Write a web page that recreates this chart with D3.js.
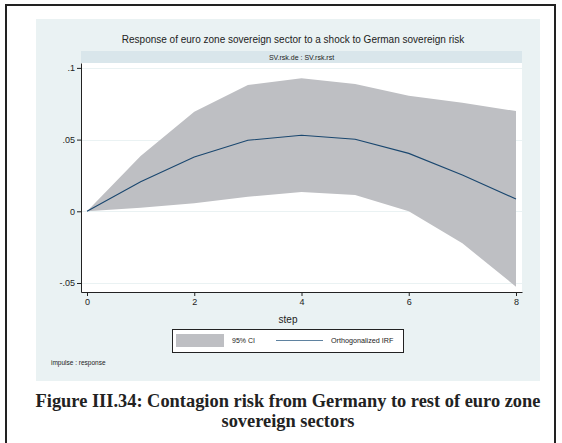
<!DOCTYPE html>
<html>
<head>
<meta charset="utf-8">
<script src="https://cdn.jsdelivr.net/npm/d3@7/dist/d3.min.js"></script>
<style>
  html, body { margin: 0; padding: 0; background: #ffffff; }
  svg { display: block; }
</style>
</head>
<body>
<svg id="chart" width="562" height="443"></svg>
<script>
// Impulse-response data: steps, orthogonalized IRF and its 95% confidence band
const steps = [0, 1, 2, 3, 4, 5, 6, 7, 8];
const irf   = [0, 0.0206, 0.0379, 0.0495, 0.0530, 0.0502, 0.0404, 0.0253, 0.0086];
const upper = [0, 0.0386, 0.0695, 0.0881, 0.0927, 0.0888, 0.0806, 0.0757, 0.0699];
const lower = [0, 0.0025, 0.0056, 0.0102, 0.0134, 0.0114, 0.0000, -0.0223, -0.0526];

const xTicks = [0, 2, 4, 6, 8];
const yTicks = [-0.05, 0, 0.05, 0.1];
const yTickLabels = ["-.05", "0", ".05", ".1"];

const titleText = "Response of euro zone sovereign sector to a shock to German sovereign risk";
const stripText = "SV.rsk.de : SV.rsk.rst";
const xTitle = "step";
const legendLabels = ["95% CI", "Orthogonalized IRF"];
const noteText = "impulse : response";
const captionLines = [
  "Figure III.34: Contagion risk from Germany to rest of euro zone",
  "sovereign sectors"
];

const svg = d3.select("#chart");
const sans = "'Liberation Sans', Arial, sans-serif";
const serif = "'Liberation Serif', 'Times New Roman', serif";

// Outer page frame
svg.append("rect")
  .attr("x", 6).attr("y", 5).attr("width", 549).attr("height", 452)
  .attr("fill", "none").attr("stroke", "#222").attr("stroke-width", 2);

// Graph panel background
const panel = { x: 36, y: 19, w: 504, h: 362 };
svg.append("rect")
  .attr("x", panel.x).attr("y", panel.y).attr("width", panel.w).attr("height", panel.h)
  .attr("fill", "#eaf2f3");

// Plot region
const plot = { left: 81, right: 522, top: 63, bottom: 292 };

const x = d3.scaleLinear().domain([-0.112, 8.112]).range([plot.left, plot.right]);
const y = d3.scaleLinear().domain([-0.05628, 0.10342]).range([plot.bottom, plot.top]);

// Title
svg.append("text")
  .attr("x", 293).attr("y", 39.5)
  .attr("text-anchor", "middle").attr("dominant-baseline", "central")
  .attr("font-family", sans).attr("font-size", 10).attr("fill", "#222")
  .text(titleText);

// Subtitle strip
svg.append("rect")
  .attr("x", plot.left).attr("y", 51).attr("width", plot.right - plot.left).attr("height", 12)
  .attr("fill", "#d9e6eb");
svg.append("text")
  .attr("x", (plot.left + plot.right) / 2).attr("y", 57.3)
  .attr("text-anchor", "middle").attr("dominant-baseline", "central")
  .attr("font-family", sans).attr("font-size", 7).attr("fill", "#222")
  .text(stripText);

// White plot area
svg.append("rect")
  .attr("x", plot.left).attr("y", plot.top)
  .attr("width", plot.right - plot.left).attr("height", plot.bottom - plot.top)
  .attr("fill", "#ffffff");

// Horizontal grid lines
svg.append("g").selectAll("line").data(yTicks).join("line")
  .attr("x1", plot.left).attr("x2", plot.right)
  .attr("y1", d => Math.round(y(d)) + 0.5).attr("y2", d => Math.round(y(d)) + 0.5)
  .attr("stroke", "#eaf2f3").attr("stroke-width", 1);

// Confidence band
const band = d3.area()
  .x((d, i) => x(steps[i]))
  .y0((d, i) => y(lower[i]))
  .y1((d, i) => y(upper[i]));
svg.append("path")
  .datum(steps)
  .attr("d", band)
  .attr("fill", "#bebfc3");

// Orthogonalized IRF line
const line = d3.line()
  .x((d, i) => x(steps[i]))
  .y((d, i) => y(irf[i]));
svg.append("path")
  .datum(steps)
  .attr("d", line)
  .attr("fill", "none").attr("stroke", "#1a476f").attr("stroke-width", 1.1);

// Axes
const yAxis = d3.axisLeft(y)
  .tickValues(yTicks)
  .tickFormat((d, i) => yTickLabels[i])
  .tickSizeInner(4).tickSizeOuter(0).tickPadding(2);
const gy = svg.append("g").attr("transform", `translate(${plot.left},0)`).call(yAxis);

const xAxis = d3.axisBottom(x)
  .tickValues(xTicks)
  .tickFormat(d3.format("d"))
  .tickSizeInner(4).tickSizeOuter(0).tickPadding(3);
const gx = svg.append("g").attr("transform", `translate(0,${plot.bottom})`).call(xAxis);

[gy, gx].forEach(g => {
  g.selectAll("path.domain").attr("stroke", "#222");
  g.selectAll(".tick line").attr("stroke", "#222");
  g.selectAll(".tick text")
    .attr("font-family", sans).attr("font-size", 9).attr("fill", "#222");
});

// X axis title
svg.append("text")
  .attr("x", 288).attr("y", 319)
  .attr("text-anchor", "middle").attr("dominant-baseline", "central")
  .attr("font-family", sans).attr("font-size", 10).attr("fill", "#222")
  .text(xTitle);

// Legend
const lg = svg.append("g");
lg.append("rect")
  .attr("x", 172.5).attr("y", 329.5).attr("width", 231).attr("height", 23)
  .attr("fill", "#ffffff").attr("stroke", "#222").attr("stroke-width", 1);
lg.append("rect")
  .attr("x", 176).attr("y", 334).attr("width", 48).attr("height", 13)
  .attr("fill", "#bebfc3");
lg.append("text")
  .attr("x", 232).attr("y", 340.5)
  .attr("dominant-baseline", "central")
  .attr("font-family", sans).attr("font-size", 7).attr("fill", "#222")
  .text(legendLabels[0]);
lg.append("line")
  .attr("x1", 276).attr("x2", 323).attr("y1", 340.5).attr("y2", 340.5)
  .attr("stroke", "#5f82a0").attr("stroke-width", 1.2);
lg.append("text")
  .attr("x", 331).attr("y", 340.5)
  .attr("dominant-baseline", "central")
  .attr("font-family", sans).attr("font-size", 7.2).attr("fill", "#222")
  .text(legendLabels[1]);

// Note
svg.append("text")
  .attr("x", 51).attr("y", 362)
  .attr("dominant-baseline", "central")
  .attr("font-family", sans).attr("font-size", 6.5).attr("fill", "#222")
  .text(noteText);

// Figure caption
svg.append("g").selectAll("text").data(captionLines).join("text")
  .attr("x", 288).attr("y", (d, i) => 407 + i * 20)
  .attr("text-anchor", "middle")
  .attr("font-family", serif).attr("font-weight", "bold").attr("font-size", 18.4)
  .attr("fill", "#222")
  .text(d => d);
</script>
</body>
</html>
